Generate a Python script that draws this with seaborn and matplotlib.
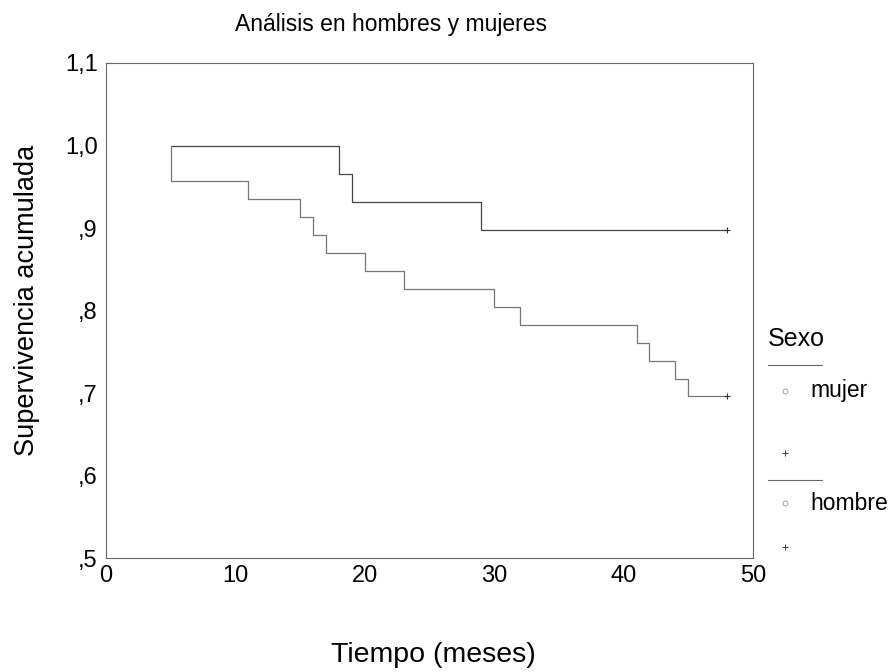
import matplotlib
matplotlib.use("Agg")
import matplotlib.pyplot as plt
from matplotlib.lines import Line2D
import numpy as np
import pandas as pd
import seaborn as sns

# Kaplan-Meier estimates by sex (time in months)
mujer_t = [5, 18, 19, 29, 48]
mujer_s = [1.0, 0.966, 0.931, 0.897, 0.897]
hombre_t = [5, 5, 11, 15, 16, 17, 20, 23, 30, 32, 41, 42, 44, 45, 48]
hombre_s = [1.0, 0.957, 0.935, 0.913, 0.891, 0.870, 0.848, 0.826, 0.804,
            0.783, 0.761, 0.739, 0.717, 0.696, 0.696]
censor_t = [48, 48]
censor_s = [0.897, 0.696]

x_ticks = [0, 10, 20, 30, 40, 50]
y_ticks = [0.5, 0.6, 0.7, 0.8, 0.9, 1.0, 1.1]
y_tick_labels = [",5", ",6", ",7", ",8", ",9", "1,0", "1,1"]

sns.set_theme(style="white")
plt.rcParams["font.family"] = ["Liberation Sans", "DejaVu Sans"]
plt.rcParams["text.color"] = "black"
plt.rcParams["xtick.color"] = "black"
plt.rcParams["ytick.color"] = "black"

df = pd.DataFrame({
    "t": mujer_t + hombre_t,
    "s": mujer_s + hombre_s,
    "sexo": ["mujer"] * len(mujer_t) + ["hombre"] * len(hombre_t),
})

W, H = 893, 672
fig = plt.figure(figsize=(W / 100, H / 100), dpi=100)
x0, x1, y0, y1 = 106, 753, 63, 558
ax = fig.add_axes([x0 / W, 1 - y1 / H, (x1 - x0) / W, (y1 - y0) / H])

sns.lineplot(data=df, x="t", y="s", hue="sexo", estimator=None, sort=False,
             drawstyle="steps-post", palette={"mujer": "#444444", "hombre": "#777777"},
             linewidth=0.9, legend=False, ax=ax)
ax.scatter(censor_t, censor_s, marker="+", s=22, color="#333333", linewidths=0.8, zorder=3)

ax.set_xlim(0, 50)
ax.set_ylim(0.5, 1.1)
ax.set_xticks(x_ticks)
ax.set_xticklabels([str(v) for v in x_ticks], fontsize=17)
ax.set_yticks(y_ticks)
ax.set_yticklabels(y_tick_labels, fontsize=17)
ax.tick_params(axis="y", direction="out", length=3, width=0.8, color="#444444", pad=3)
ax.tick_params(axis="x", direction="inout", length=6, width=0.8, color="#444444", pad=2)
for sp in ax.spines.values():
    sp.set_color("#666666")
    sp.set_linewidth(0.8)
ax.set_xlabel("")
ax.set_ylabel("")

fig.text(391 / W, 1 - 25 / H, "Análisis en hombres y mujeres", ha="center", va="center", fontsize=16.5)
fig.text(433 / W, 1 - 655 / H, "Tiempo (meses)", ha="center", va="center", fontsize=20.5)
fig.text(27 / W, 1 - 300 / H, "Supervivencia acumulada", ha="center", va="center",
         rotation=90, fontsize=19.5)

# Legend drawn outside the axes
fig.text(768 / W, 1 - 339 / H, "Sexo", ha="left", va="center", fontsize=18)
for ly in (365, 480):
    fig.add_artist(Line2D([768 / W, 822 / W], [1 - ly / H, 1 - ly / H], color="#666666", lw=0.8))
for cy, name in ((391, "mujer"), (503, "hombre")):
    fig.add_artist(Line2D([785 / W], [1 - cy / H], marker="o", markersize=3.5, mfc="none",
                          mec="#999999", mew=0.6, ls="none"))
    fig.text(810 / W, 1 - cy / H, name, ha="left", va="center", fontsize=16.5)
for py in (453, 547):
    fig.add_artist(Line2D([785 / W], [1 - py / H], marker="+", markersize=4.5,
                          mec="#444444", mew=0.7, ls="none"))

fig.savefig("out.png", dpi=100, facecolor="white")
